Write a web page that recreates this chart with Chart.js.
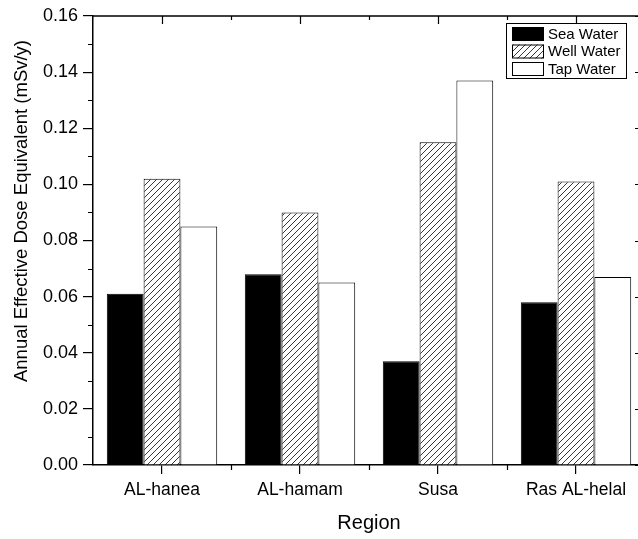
<!DOCTYPE html>
<html>
<head>
<meta charset="utf-8">
<title>Annual Effective Dose Equivalent by Region</title>
<script src="https://cdn.jsdelivr.net/npm/chart.js@4.4.1/dist/chart.umd.min.js"></script>
<style>
  html, body { margin: 0; padding: 0; background: #fff; overflow: hidden; }
  #wrap { width: 638px; height: 539px; overflow: hidden; }
  canvas { display: block; }
</style>
</head>
<body>
<div id="wrap">
  <canvas id="chart" width="648" height="539"></canvas>
</div>
<script>
// Chart data
const regions = ['AL-hanea', 'AL-hamam', 'Susa', 'Ras AL-helal'];
const seaWater = [0.061, 0.068, 0.037, 0.058];
const wellWater = [0.102, 0.090, 0.115, 0.101];
const tapWater = [0.085, 0.065, 0.137, 0.067];
const yTicks = [0, 0.02, 0.04, 0.06, 0.08, 0.10, 0.12, 0.14, 0.16];

const FONT = '"Liberation Sans", Arial, sans-serif';

// Diagonal hatch pattern for the well water bars
function makeHatch() {
  const size = 6;
  const c = document.createElement('canvas');
  c.width = size;
  c.height = size;
  const g = c.getContext('2d');
  g.fillStyle = '#fff';
  g.fillRect(0, 0, size, size);
  g.strokeStyle = '#222';
  g.lineWidth = 0.9;
  g.beginPath();
  g.moveTo(0, size); g.lineTo(size, 0);
  g.moveTo(-1, 1); g.lineTo(1, -1);
  g.moveTo(size - 1, size + 1); g.lineTo(size + 1, size - 1);
  g.stroke();
  return g.createPattern(c, 'repeat');
}

// Extra axis decoration: minor ticks, top and right mirror axes
const framePlugin = {
  id: 'frame',
  afterDraw(chart) {
    const ctx = chart.ctx;
    const area = chart.chartArea;
    const x = chart.scales.x;
    const y = chart.scales.y;
    ctx.save();
    ctx.strokeStyle = '#000';

    // top and right axis lines
    ctx.lineWidth = 1.5;
    ctx.beginPath();
    ctx.moveTo(area.left, area.top);
    ctx.lineTo(area.right, area.top);
    ctx.lineTo(area.right, area.bottom);
    ctx.stroke();

    ctx.lineWidth = 1.2;
    ctx.beginPath();
    // x axis: category centers (major) and boundaries (minor)
    regions.forEach((r, i) => {
      const cx = Math.round(x.getPixelForValue(i)) + 0.5;
      ctx.moveTo(cx, area.top);
      ctx.lineTo(cx, area.top + 8);
      if (i < regions.length - 1) {
        const bx = Math.round((x.getPixelForValue(i) + x.getPixelForValue(i + 1)) / 2) + 0.5;
        ctx.moveTo(bx, area.bottom);
        ctx.lineTo(bx, area.bottom + 5);
        ctx.moveTo(bx, area.top);
        ctx.lineTo(bx, area.top + 4);
      }
    });
    // y axis: right major ticks, minor ticks both sides
    yTicks.forEach((v, i) => {
      const py = Math.round(y.getPixelForValue(v)) + 0.5;
      ctx.moveTo(area.right, py);
      ctx.lineTo(area.right - 10, py);
      if (i < yTicks.length - 1) {
        const my = Math.round(y.getPixelForValue((v + yTicks[i + 1]) / 2)) + 0.5;
        ctx.moveTo(area.left, my);
        ctx.lineTo(area.left - 5, my);
        ctx.moveTo(area.right, my);
        ctx.lineTo(area.right - 5, my);
      }
    });
    ctx.stroke();

    // axis titles
    ctx.fillStyle = '#000';
    ctx.textAlign = 'center';
    ctx.textBaseline = 'middle';
    ctx.font = '20px ' + FONT;
    ctx.fillText('Region', (area.left + area.right) / 2, 523);
    ctx.translate(22, 211);
    ctx.rotate(-Math.PI / 2);
    ctx.font = '18.5px ' + FONT;
    ctx.fillText('Annual Effective Dose Equivalent (mSv/y)', 0, 0);
    ctx.restore();

    drawLegend(chart);
  }
};

// Legend box in the top right corner of the plot
function drawLegend(chart) {
  const ctx = chart.ctx;
  ctx.save();
  ctx.fillStyle = '#fff';
  ctx.fillRect(507, 23, 120, 55);
  ctx.strokeStyle = '#000';
  ctx.lineWidth = 1;
  ctx.strokeRect(506.5, 23.5, 120, 55);
  ctx.font = '15px ' + FONT;
  ctx.textAlign = 'left';
  ctx.textBaseline = 'middle';
  chart.data.datasets.forEach((ds, i) => {
    const top = 27 + i * 17.5;
    ctx.fillStyle = ds.backgroundColor;
    ctx.fillRect(512, top, 32, 14);
    ctx.strokeRect(512.5, top + 0.5, 31, 13);
    ctx.fillStyle = '#000';
    ctx.fillText(ds.label, 548, top + 7.5);
  });
  ctx.restore();
}

const chart = new Chart(document.getElementById('chart'), {
  type: 'bar',
  data: {
    labels: regions,
    datasets: [
      { label: 'Sea Water', data: seaWater, backgroundColor: '#000', borderColor: '#000', borderWidth: 1 },
      { label: 'Well Water', data: wellWater, backgroundColor: makeHatch(), borderColor: '#000', borderWidth: 1 },
      { label: 'Tap Water', data: tapWater, backgroundColor: '#fff', borderColor: '#000', borderWidth: 1 }
    ]
  },
  options: {
    responsive: false,
    animation: false,
    devicePixelRatio: 1,
    datasets: { bar: { barPercentage: 1, categoryPercentage: 0.8 } },
    layout: { padding: { left: 0, top: 16, right: 3, bottom: 0 } },
    plugins: { legend: { display: false }, tooltip: { enabled: false } },
    scales: {
      x: {
        offset: true,
        grid: { display: true, offset: false, drawOnChartArea: false, drawTicks: true, tickLength: 9, color: '#000', lineWidth: 1.2 },
        border: { display: true, color: '#000', width: 1.5 },
        ticks: { color: '#000', font: { family: FONT, size: 17.5 }, padding: 6, maxRotation: 0 },
        afterFit(scale) { scale.height = 74; }
      },
      y: {
        min: 0,
        max: 0.16,
        afterBuildTicks(scale) { scale.ticks = yTicks.map(v => ({ value: v })); },
        grid: { display: true, drawOnChartArea: false, drawTicks: true, tickLength: 10, color: '#000', lineWidth: 1.2 },
        border: { display: true, color: '#000', width: 1.5 },
        ticks: { color: '#000', font: { family: FONT, size: 18 }, padding: 5, callback: v => v.toFixed(2) },
        afterFit(scale) { scale.width = 93; }
      }
    }
  },
  plugins: [framePlugin]
});
</script>
</body>
</html>
